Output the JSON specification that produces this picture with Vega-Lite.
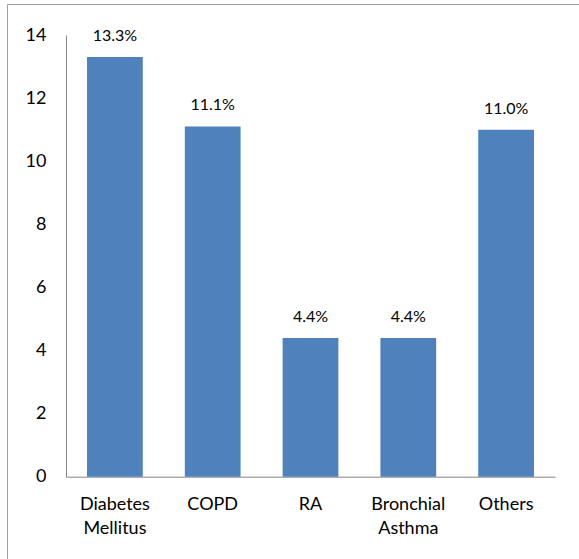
{
  "$schema": "https://vega.github.io/schema/vega-lite/v6.json",
  "width": 572,
  "height": 555,
  "autosize": {"type": "none"},
  "padding": {"left": 7, "top": 4, "right": 0, "bottom": 0},
  "background": "#ffffff",
  "config": {
    "view": {"stroke": "#a0a0a0", "strokeWidth": 1},
    "font": "Lato"
  },
  "data": {
    "values": [
      {"category": "Diabetes Mellitus", "value": 13.3, "label": "13.3%"},
      {"category": "COPD", "value": 11.1, "label": "11.1%"},
      {"category": "RA", "value": 4.4, "label": "4.4%"},
      {"category": "Bronchial Asthma", "value": 4.4, "label": "4.4%"},
      {"category": "Others", "value": 11.0, "label": "11.0%"}
    ]
  },
  "encoding": {
    "x": {
      "field": "category",
      "type": "nominal",
      "sort": null,
      "scale": {"range": [59, 548], "paddingInner": 0.43, "paddingOuter": 0.215},
      "axis": {
        "title": null,
        "offset": -82.3,
        "labelAngle": 0,
        "labelExpr": "split(datum.label, ' ')",
        "labelFont": "Lato",
        "labelFontSize": 18,
        "labelColor": "#000000",
        "labelLineHeight": 24,
        "labelPadding": 19,
        "ticks": false,
        "domainColor": "#868686",
        "grid": false
      }
    },
    "y": {
      "field": "value",
      "type": "quantitative",
      "scale": {"domain": [0, 14], "range": [472.7, 31], "nice": false},
      "axis": {
        "title": null,
        "offset": -59,
        "values": [0, 2, 4, 6, 8, 10, 12, 14],
        "labelFont": "Lato",
        "labelFontSize": 18,
        "labelColor": "#000000",
        "labelPadding": 20,
        "ticks": false,
        "domainColor": "#868686",
        "grid": false
      }
    }
  },
  "layer": [
    {"mark": {"type": "bar", "color": "#4F81BD"}},
    {
      "mark": {"type": "text", "baseline": "alphabetic", "dy": -16, "fontSize": 16, "font": "Lato", "color": "#000000"},
      "encoding": {"text": {"field": "label"}}
    }
  ]
}
